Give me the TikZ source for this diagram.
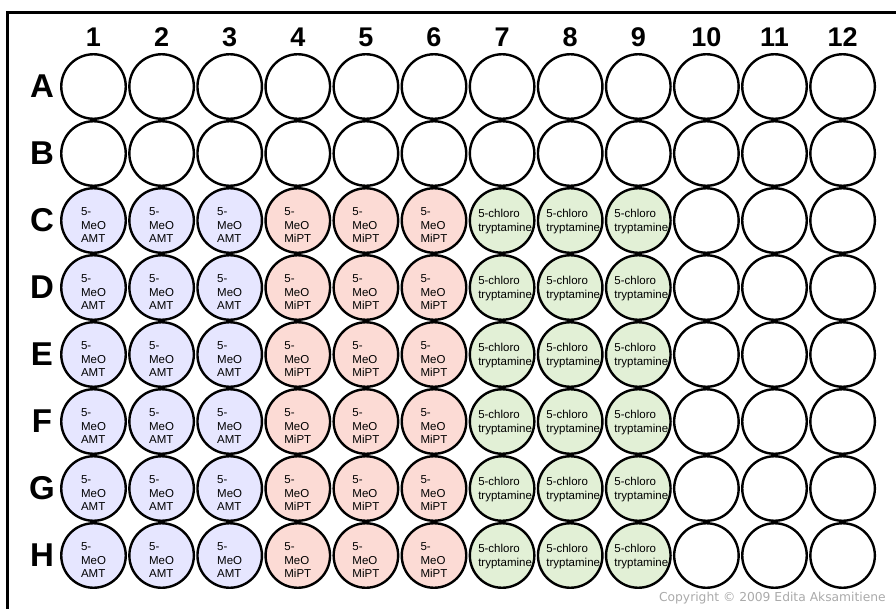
\documentclass[tikz,border=0pt]{standalone}
\usepackage{fontspec}
\setmainfont{Liberation Sans}
\newfontfamily\copyfont{DejaVu Sans}
\usetikzlibrary{positioning}

\definecolor{amtblue}{RGB}{230,230,255}
\definecolor{miptpink}{RGB}{252,219,213}
\definecolor{chlorogreen}{RGB}{226,240,214}
\definecolor{copygray}{RGB}{170,170,170}

\begin{document}
\begin{tikzpicture}[x=1pt, y=-1pt,
  well/.style={circle, draw, line width=2.4pt, minimum size=64.5pt, inner sep=0pt},
  welltext/.style={align=left, font=\fontsize{11.5}{13.5}\selectfont, inner sep=0pt},
  amt/.style={well, fill=amtblue, label={[welltext, yshift=-5pt]center:{5-\\MeO\\AMT}}},
  mipt/.style={well, fill=miptpink, label={[welltext, yshift=-5pt]center:{5-\\MeO\\MiPT}}},
  chloro/.style={well, fill=chlorogreen, label={[welltext, xshift=3pt, yshift=-1pt]center:{5-chloro\\tryptamine}}},
  rowlabel/.style={font=\bfseries\fontsize{33}{33}\selectfont},
  collabel/.style={font=\bfseries\fontsize{27}{27}\selectfont},
  every node/.style={inner sep=0pt}
]
\useasboundingbox (0,0) rectangle (896,608);

% plate frame
\draw[line width=3pt] (7,620) -- (7,12) -- (910,12);

% column numbers and row letters
\foreach \c in {1,...,12}
  \node[collabel] (col\c) at ({25.4+68.1*\c}, 37) {\c};
\foreach \r [count=\i from 0] in {A,...,H}
  \node[rowlabel] (row\r) at (42, {86.5+67*\i}) {\r};

% empty rows
\foreach \r [count=\i from 0] in {A,B}
  \foreach \c in {1,...,12}
    \node[well] (\r\c) at ({25.4+68.1*\c}, {86.5+67*\i}) {};

% filled rows
\foreach \r [count=\i from 2] in {C,...,H}
  \foreach \c/\s in {1/amt,2/amt,3/amt,4/mipt,5/mipt,6/mipt,7/chloro,8/chloro,9/chloro,10/well,11/well,12/well}
    \node[\s] (\r\c) at ({25.4+68.1*\c}, {86.5+67*\i}) {};

% copyright
\node[anchor=east, text=copygray, font=\copyfont\fontsize{12.3}{14}\selectfont] (copy) at (886,598) {Copyright © 2009 Edita Aksamitiene};

\end{tikzpicture}
\end{document}
